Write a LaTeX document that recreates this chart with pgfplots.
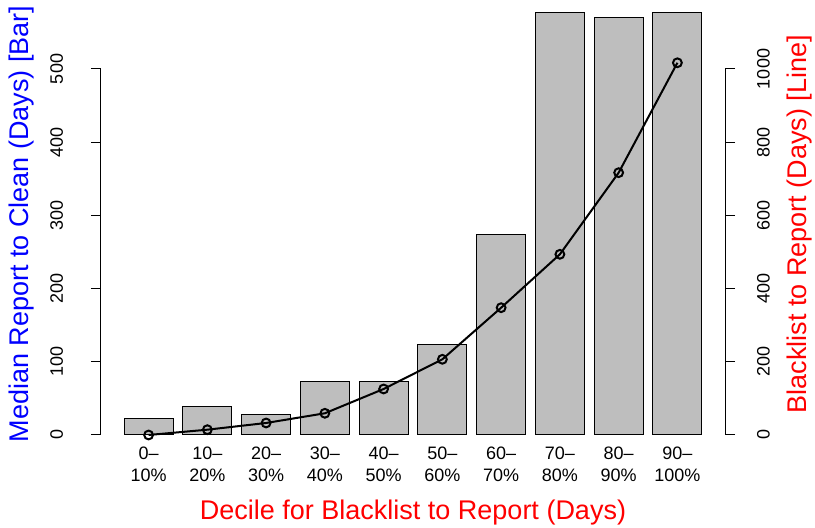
\documentclass[border=0pt]{standalone}
\usepackage{pgfplots}
\pgfplotsset{compat=1.18}
\usepackage{fontspec}
\setmainfont{Liberation Sans}
\definecolor{rblue}{RGB}{0,0,255}
\definecolor{rred}{RGB}{255,0,0}
\definecolor{rgrey}{RGB}{190,190,190}
\begin{document}
\begin{tikzpicture}
\useasboundingbox (-50.5pt,-46.5pt) rectangle (357pt,217.5pt);
\begin{axis}[
  at={(0pt,0pt)}, anchor=south west,
  scale only axis, width=312pt, height=183pt,
  xmin=-0.272, xmax=12.472, ymin=0, ymax=500,
  clip=false,
  axis y line*=left, axis x line*=bottom,
  x axis line style={draw=none},
  y axis line style={line width=0.5pt, black},
  /pgf/number format/assume math mode=true,
  /pgf/number format/1000 sep={},
  ytick={0,100,200,300,400,500},
  tick align=outside, major tick length=5pt,
  ytick style={line width=0.5pt, black},
  yticklabel style={xshift=-17.15pt, rotate=90, anchor=center, font=\fontsize{9}{11}\selectfont},
  xtick={0.7,1.9,3.1,4.3,5.5,6.7,7.9,9.1,10.3,11.5},
  xticklabels={{0–\\10\%},{10–\\20\%},{20–\\30\%},{30–\\40\%},{40–\\50\%},{50–\\60\%},{60–\\70\%},{70–\\80\%},{80–\\90\%},{90–\\100\%}},
  xtick style={draw=none},
  xticklabel style={yshift=2.5pt, align=center, anchor=north, font=\fontsize{9}{11.15}\selectfont},
  ylabel={Median Report to Clean (Days) [Bar]},
  ylabel style={at={(axis description cs:-0.1266,0.5765)}, anchor=center, text=rblue, font=\fontsize{13.5}{16}\selectfont},
  xlabel={Decile for Blacklist to Report (Days)},
  xlabel style={at={(axis description cs:0.5,-0.2131)}, anchor=center, text=rred, font=\fontsize{13.5}{16}\selectfont},
]
\addplot[ybar, bar width=24.5pt, fill=rgrey, draw=black, line width=0.5pt] coordinates {
(0.7,22.3) (1.9,39.2) (3.1,28.3) (4.3,72.4) (5.5,73.4) (6.7,123.9) (7.9,273.6) (9.1,577) (10.3,570.6) (11.5,577)};
\end{axis}
\begin{axis}[
  at={(0pt,0pt)}, anchor=south west,
  scale only axis, width=312pt, height=183pt,
  xmin=-0.272, xmax=12.472, ymin=0, ymax=1000,
  clip=false,
  axis y line*=right, axis x line=none,
  y axis line style={line width=0.5pt, black},
  /pgf/number format/assume math mode=true,
  /pgf/number format/1000 sep={},
  ytick={0,200,400,600,800,1000},
  tick align=outside, major tick length=5pt,
  ytick style={line width=0.5pt, black},
  yticklabel style={xshift=14.25pt, rotate=90, anchor=center, font=\fontsize{9}{11}\selectfont},
  ylabel={Blacklist to Report (Days) [Line]},
  ylabel style={at={(axis description cs:1.1202,0.5765)}, anchor=center, rotate=0, text=rred, font=\fontsize{13.5}{16}\selectfont},
]
\addplot[black, line width=1pt, mark=o, mark size=2.2pt, mark options={line width=1pt}] coordinates {
(0.7,0) (1.9,14.5) (3.1,32.8) (4.3,59.3) (5.5,125.7) (6.7,206.8) (7.9,347.8) (9.1,493.7) (10.3,716.7) (11.5,1017)};
\end{axis}
\end{tikzpicture}
\end{document}
